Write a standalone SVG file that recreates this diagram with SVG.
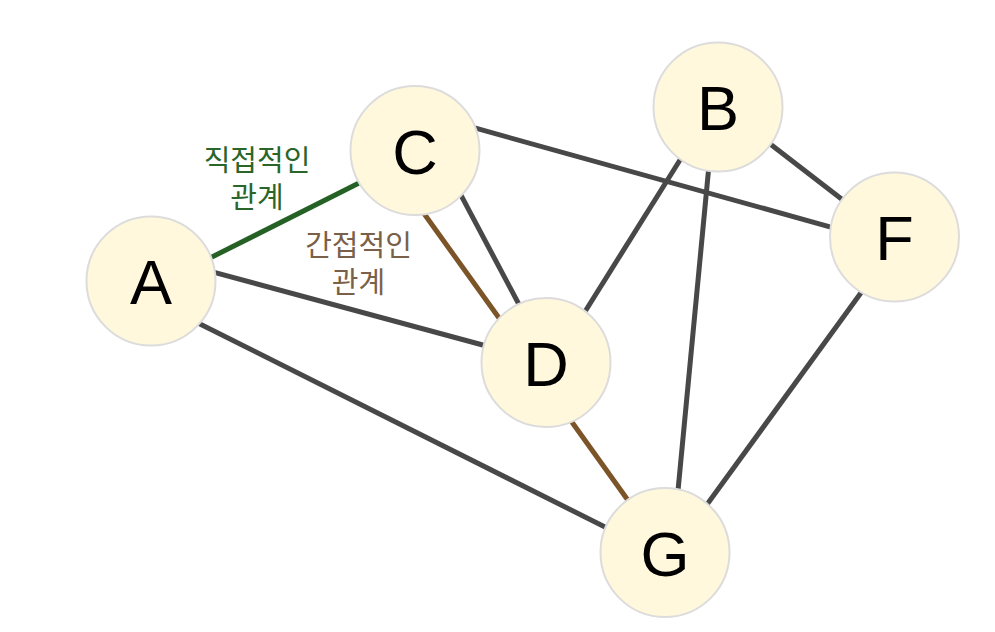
<svg xmlns="http://www.w3.org/2000/svg" width="995" height="632" viewBox="0 0 995 632">
<style>
.e{stroke:#484848;stroke-width:5;stroke-linecap:butt;fill:none}
.g{stroke:#256125;stroke-width:5;fill:none}
.b{stroke:#7b5428;stroke-width:5;fill:none}
.n circle{fill:#fff8dc;stroke:#dcdcdc;stroke-width:2}
.n text{font-family:"Liberation Sans",Arial,sans-serif;font-size:63px;fill:#000;text-anchor:middle}
.lbl{font-family:"Noto Sans CJK KR","Noto Sans",sans-serif;font-size:29px;text-anchor:middle}
</style>
<rect width="995" height="632" fill="#fff"/>
<g id="connectors">
<line class="g" x1="205" y1="260.5" x2="366" y2="179.5"/>
<line class="e" x1="205" y1="269.8" x2="492" y2="347.5"/>
<line class="e" x1="192" y1="320" x2="612" y2="530.5"/>
<line class="e" x1="457.5" y1="188.7" x2="523" y2="312"/>
<line class="b" x1="420" y1="208" x2="503" y2="323.5"/>
<line class="b" x1="569" y1="418" x2="631" y2="504.5"/>
<line class="e" x1="472" y1="127.2" x2="837" y2="228.8"/>
<line class="e" x1="685" y1="152" x2="581" y2="318"/>
<line class="e" x1="709" y1="165" x2="677.5" y2="496"/>
<line class="e" x1="765" y1="140" x2="848" y2="204"/>
<line class="e" x1="863" y1="290" x2="703" y2="510"/>
</g>
<text class="lbl" fill="#2a652a"><tspan x="257" y="171">직접적인</tspan><tspan x="257" y="208">관계</tspan></text>
<text class="lbl" fill="#7a6048"><tspan x="358.5" y="256">간접적인</tspan><tspan x="358.5" y="292.5">관계</tspan></text>
<g id="A" class="n"><circle cx="151" cy="281" r="64.5"/><text x="151" y="304">A</text></g>
<g id="C" class="n"><circle cx="415" cy="150.5" r="64.5"/><text x="415" y="174">C</text></g>
<g id="B" class="n"><circle cx="718" cy="107" r="64.5"/><text x="718" y="130">B</text></g>
<g id="F" class="n"><circle cx="894.5" cy="237" r="64.5"/><text x="894.5" y="260">F</text></g>
<g id="D" class="n"><circle cx="546" cy="362.5" r="64.5"/><text x="546" y="386">D</text></g>
<g id="G" class="n"><circle cx="665" cy="552.5" r="64.5"/><text x="665" y="576">G</text></g>
</svg>
